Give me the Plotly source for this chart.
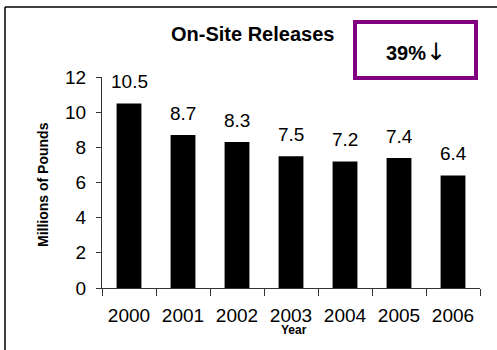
import plotly.graph_objects as go

# On-site releases by year (millions of pounds)
years = ["2000", "2001", "2002", "2003", "2004", "2005", "2006"]
releases = [10.5, 8.7, 8.3, 7.5, 7.2, 7.4, 6.4]
y_ticks = [0, 2, 4, 6, 8, 10, 12]
change_pct = "39%"
change_arrow = "\u2193"

W, H = 497, 350
L, R, T, B = 102, 17, 77, 62
plot_w = W - L - R
plot_h = H - T - B


def px_x(px):
    return (px - L) / plot_w


def px_y(py):
    return (H - B - py) / plot_h


FONT = "Liberation Sans, Arial, sans-serif"
pos = list(range(len(years)))
bounds = [p - 0.5 for p in pos] + [pos[-1] + 0.5]

fig = go.Figure(
    go.Bar(
        x=pos,
        y=releases,
        marker=dict(color="black", line=dict(width=0)),
        customdata=years,
        hovertemplate="%{customdata}: %{y}<extra></extra>",
    )
)

annotations = []
for p, v in zip(pos, releases):
    annotations.append(dict(
        x=p, y=v, xref="x", yref="y", text=f"{v:.1f}", showarrow=False,
        xanchor="center", yanchor="bottom", yshift=9,
        font=dict(size=19, color="black", family=FONT),
    ))


def paper_note(x, y, text, size, angle=0):
    return dict(x=px_x(x), y=px_y(y), xref="paper", yref="paper", text=text,
                showarrow=False, xanchor="center", yanchor="middle", textangle=angle,
                font=dict(size=size, color="black", family=FONT))


annotations += [
    paper_note(252, 34, "<b>On-Site Releases</b>", 20),
    paper_note(416, 52, f"<b>{change_pct}</b><span style=\"font-family:'DejaVu Sans';font-size:24px\">{change_arrow}</span>", 20),
    paper_note(43, 185, "<b>Millions of Pounds</b>", 14, -90),
    paper_note(294, 330, "<b>Year</b>", 12),
]

shapes = [
    # outer frame (left and top edges)
    dict(type="line", xref="paper", yref="paper", x0=px_x(5), y0=px_y(7), x1=px_x(520), y1=px_y(7),
         line=dict(color="black", width=1.5)),
    dict(type="line", xref="paper", yref="paper", x0=px_x(5), y0=px_y(7), x1=px_x(5), y1=px_y(370),
         line=dict(color="black", width=1.5)),
    # highlighted change box
    dict(type="rect", xref="paper", yref="paper", x0=px_x(355), x1=px_x(476), y0=px_y(78), y1=px_y(22),
         line=dict(color="#800080", width=4), fillcolor="white", layer="below"),
]

fig.update_layout(
    width=W, height=H,
    margin=dict(l=L, r=R, t=T, b=B),
    paper_bgcolor="white", plot_bgcolor="white",
    showlegend=False,
    bargap=0.54,
    font=dict(family=FONT, color="black"),
    annotations=annotations,
    shapes=shapes,
    xaxis=dict(
        range=[bounds[0], bounds[-1]], tickvals=pos, ticktext=years, ticks="",
        showline=True, linecolor="#333", linewidth=1, showgrid=False, zeroline=False,
        tickfont=dict(size=19, color="black", family=FONT), ticklabelstandoff=10,
        minor=dict(tickvals=bounds, ticks="outside", ticklen=7, tickcolor="#333", showgrid=False),
    ),
    yaxis=dict(
        range=[0, 12], tickvals=y_ticks, ticks="outside", ticklen=5, tickcolor="#333",
        showline=True, linecolor="#333", linewidth=1, showgrid=False, zeroline=False,
        tickfont=dict(size=19, color="black", family=FONT), ticklabelstandoff=6,
    ),
)

fig.write_html("out.html")
